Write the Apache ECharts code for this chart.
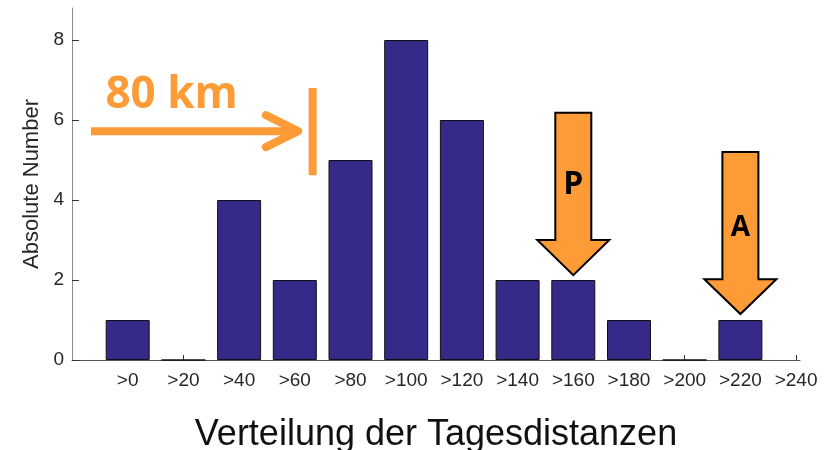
<!DOCTYPE html>
<html>
<head>
<meta charset="utf-8">
<script src="https://cdn.jsdelivr.net/npm/echarts@6/dist/echarts.min.js"></script>
<style>
  html, body { margin: 0; background: #fff; }
  #main { width: 838px; height: 450px; }
</style>
</head>
<body>
<div id="main"></div>
<script>
// data
var categories = ['>0', '>20', '>40', '>60', '>80', '>100', '>120', '>140', '>160', '>180', '>200', '>220', '>240'];
var counts = [1, 0, 4, 2, 5, 8, 6, 2, 2, 1, 0, 1, 0];
var yTicks = [0, 2, 4, 6, 8];
var xTicks = categories.map(function (c, i) { return i; });

var orange = '#fd9b37';
var barColor = '#352a87';
var font = '"Liberation Sans", Arial, sans-serif';
var xMax = 12.07;

var myChart = echarts.init(document.getElementById('main'));

var option = {
  animation: false,
  grid: { left: 72, right: 38, top: 8, bottom: 90, outerBoundsMode: 'none', containLabel: false },
  xAxis: {
    type: 'value',
    min: -1,
    max: xMax,
    name: 'Verteilung der Tagesdistanzen',
    nameLocation: 'middle',
    nameGap: 57,
    nameTextStyle: { fontFamily: font, fontSize: 36, color: '#111' },
    splitLine: { show: false },
    axisLine: { onZero: false, lineStyle: { color: '#555', width: 1 } },
    axisTick: { inside: true, length: 5, customValues: xTicks, lineStyle: { color: '#333' } },
    axisLabel: {
      customValues: xTicks,
      margin: 11,
      fontFamily: font, fontSize: 19, color: '#262626',
      formatter: function (v) { return categories[v] || ''; }
    }
  },
  yAxis: {
    type: 'value',
    min: 0,
    max: 8.8,
    name: 'Absolute Number',
    nameLocation: 'middle',
    nameGap: 22,
    nameTextStyle: { fontFamily: font, fontSize: 22, color: '#262626' },
    splitLine: { show: false },
    axisLine: { show: true, onZero: false, lineStyle: { color: '#8a8a8a', width: 1 } },
    axisTick: { inside: true, length: 7, customValues: yTicks, lineStyle: { color: '#333' } },
    axisLabel: { customValues: yTicks, margin: 8, fontFamily: font, fontSize: 19, color: '#262626' }
  },
  series: [{
    type: 'bar',
    barWidth: 44,
    clip: true,
    data: counts.map(function (v, i) {
      // an empty bar sticking out past the axis end is not drawn
      if (v === 0 && i + 0.4 > xMax) {
        return { value: [i, v], itemStyle: { borderColor: 'transparent' } };
      }
      return [i, v];
    }),
    itemStyle: { color: barColor, borderColor: '#111', borderWidth: 1 }
  }]
};

myChart.setOption(option);

// annotations placed through the axes' scales
function px(x, y) { return myChart.convertToPixel({ gridIndex: 0 }, [x, y]); }

function blockArrow(cx, topV, baseV, tipV) {
  var c = px(cx, topV), b = px(cx, baseV), t = px(cx, tipV);
  var sw = 18, hw = 36;
  return {
    type: 'polygon',
    shape: { points: [
      [c[0] - sw, c[1]], [c[0] + sw, c[1]], [c[0] + sw, b[1]], [c[0] + hw, b[1]],
      [t[0], t[1]], [c[0] - hw, b[1]], [c[0] - sw, b[1]]
    ] },
    style: { fill: orange, stroke: '#000', lineWidth: 2, lineJoin: 'miter' },
    z: 10
  };
}

var a0 = px(-0.66, 5.72), a1 = px(3.02, 5.72);
var c0 = px(2.48, 6.12), c1 = px(3.06, 5.72), c2 = px(2.48, 5.32);
var v0 = px(3.32, 6.8), v1 = px(3.32, 4.62);
var kmPos = px(-0.4, 6.62);
var pPos = px(8, 4.38), aPos = px(11, 3.3);

myChart.setOption({
  graphic: [
    { type: 'text', z: 10, style: { x: kmPos[0], y: kmPos[1], text: '80 km', fill: orange,
      font: 'bold 44px "Open Sans", sans-serif', verticalAlign: 'middle' } },
    { type: 'line', z: 10, shape: { x1: a0[0], y1: a0[1], x2: a1[0], y2: a1[1] },
      style: { stroke: orange, lineWidth: 8, lineCap: 'butt' } },
    { type: 'polyline', z: 10, shape: { points: [c0, c1, c2] },
      style: { stroke: orange, lineWidth: 8, lineCap: 'round', lineJoin: 'round', fill: null } },
    { type: 'line', z: 10, shape: { x1: v0[0], y1: v0[1], x2: v1[0], y2: v1[1] },
      style: { stroke: orange, lineWidth: 8, lineCap: 'butt' } },
    blockArrow(8, 6.18, 3.0, 2.12),
    blockArrow(11, 5.2, 2.02, 1.15),
    { type: 'text', z: 11, style: { x: pPos[0], y: pPos[1], text: 'P', fill: '#000',
      font: 'bold 32px "Open Sans", sans-serif', align: 'center', verticalAlign: 'middle' } },
    { type: 'text', z: 11, style: { x: aPos[0], y: aPos[1], text: 'A', fill: '#000',
      font: 'bold 28px "Open Sans", sans-serif', align: 'center', verticalAlign: 'middle' } }
  ]
});
</script>
</body>
</html>
